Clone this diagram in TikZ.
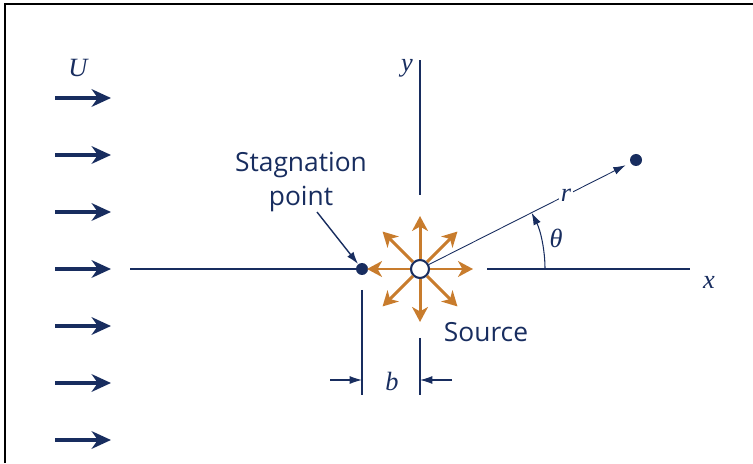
\documentclass[tikz,border=0pt]{standalone}
\usepackage{fontspec}
\setmainfont{Liberation Serif}
\newfontfamily\labelfont{Open Sans}
\usetikzlibrary{arrows.meta}

\definecolor{navy}{RGB}{24,45,95}
\definecolor{ochre}{RGB}{200,124,45}

\newcommand*{\xaxis}{194}
\newcommand*{\srcx}{420}
\newcommand*{\stagx}{362}

\begin{document}
\begin{tikzpicture}
[
	x=0.02cm,y=0.02cm,
	axis/.style={navy,line width=1.3pt},
	dimline/.style={navy,line width=0.8pt},
	flowarrow/.style={navy,line width=2.8pt,-{Stealth[length=11pt,width=10pt,inset=3.5pt]}},
	rayarrow/.style={ochre,line width=1.7pt,-{Stealth[length=8.5pt,width=9pt,inset=2.5pt]}},
	thinarrow/.style={navy,line width=0.6pt,-{Latex[length=7pt,width=4.5pt]}},
	closedpt/.style={circle,fill=navy,inner sep=0pt,minimum size=0.24cm},
	sourcept/.style={circle,draw=navy,fill=white,line width=1.2pt,inner sep=0pt,minimum size=0.36cm},
	sym/.style={font=\fontsize{15}{18}\selectfont\itshape,text=navy,inner sep=1pt},
	txt/.style={font=\labelfont\fontsize{15}{19}\selectfont,text=navy,inner sep=0pt}
]

	\useasboundingbox (0,0) rectangle (753,463);

	% frame
	\draw[line width=1.4pt] (5,0) -- (5,459) -- (753,459);

	% uniform stream
	\node[sym] (U) at (78,395) {U};
	\foreach \y [count=\i] in {365,308,251,194,137,80,23} {
		\coordinate (tail\i) at (55,\y);
		\coordinate (head\i) at (111,\y);
		\draw[flowarrow] (tail\i) -- (head\i);
	}

	% axes
	\node[closedpt] (stag) at (\stagx,\xaxis) {};
	\node[sourcept] (src) at (\srcx,\xaxis) {};
	\coordinate (xleft) at (130,\xaxis);
	\coordinate (xgap) at (487,\xaxis);
	\coordinate (xright) at (690,\xaxis);
	\draw[axis] (xleft) -- (stag);
	\draw[axis] (xgap) -- (xright);
	\node[sym] (xlab) at (709,181) {x};
	\coordinate (ybot) at (\srcx,268);
	\coordinate (ytop) at (\srcx,403);
	\draw[axis] (ybot) -- (ytop);
	\node[sym] (ylab) at (407,395) {y};

	% source rays
	\foreach \a in {0,45,...,315} {
		\coordinate (ray\a) at ([shift={(\a:53)}]src.center);
		\draw[rayarrow] (src) -- (ray\a);
	}

	% r and theta
	\node[closedpt] (pt) at (636,303) {};
	\draw[thinarrow,line width=0.5pt,shorten >=3pt] (src) -- node[pos=0.68,fill=white,sym] (rlab) {r} (pt);
	\coordinate (arcstart) at (545,\xaxis);
	\draw[thinarrow] (arcstart) arc (0:26.8:2.5cm);
	\node[sym] (theta) at (556,225) {θ};

	% labels
	\node[txt,align=center] (stagtxt) at (301,281) {Stagnation\\point};
	\coordinate (stagtail) at (317,251);
	\draw[thinarrow,line width=0.8pt] (stagtail) -- (stag);
	\node[txt] (srctxt) at (486,131) {Source};

	% distance b
	\coordinate (dimA) at (\stagx,173);
	\coordinate (dimAend) at (\stagx,68);
	\coordinate (dimB) at (\srcx,125);
	\coordinate (dimBend) at (\srcx,68);
	\draw[dimline] (dimA) -- (dimAend);
	\draw[dimline] (dimB) -- (dimBend);
	\coordinate (bleft) at (330,83);
	\coordinate (bleftend) at (\stagx,83);
	\coordinate (bright) at (452,83);
	\coordinate (brightend) at (\srcx,83);
	\draw[thinarrow] (bleft) -- (bleftend);
	\draw[thinarrow] (bright) -- (brightend);
	\node[sym] (blab) at (392,82) {b};

\end{tikzpicture}
\end{document}
